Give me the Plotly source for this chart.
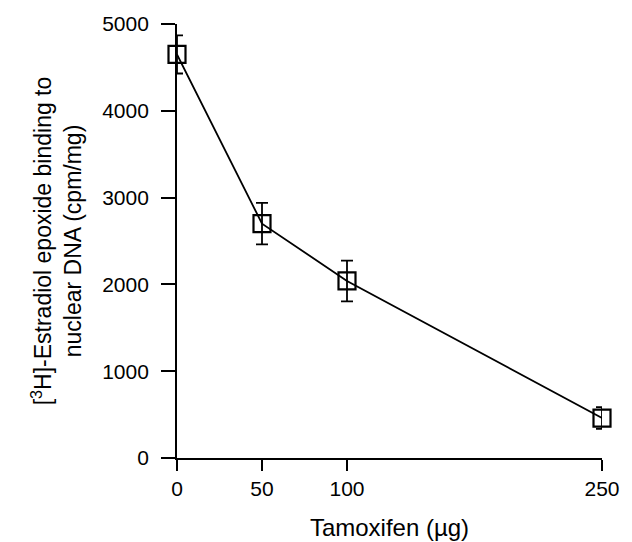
import plotly.graph_objects as go

tamoxifen = [0, 50, 100, 250]
binding = [4650, 2700, 2040, 460]
binding_err = [220, 240, 235, 125]

x_ticks = [0, 50, 100, 250]
y_ticks = [0, 1000, 2000, 3000, 4000, 5000]

fig = go.Figure()
fig.add_trace(go.Scatter(
    x=tamoxifen, y=binding,
    mode="lines+markers",
    line=dict(color="black", width=1.8),
    marker=dict(symbol="square-open", size=17, color="black", line=dict(width=2.2)),
    error_y=dict(type="data", array=binding_err, visible=True, color="black", thickness=1.8, width=6),
    cliponaxis=False,
    showlegend=False,
))

font = "Liberation Sans, Arial, Helvetica, sans-serif"
# page body has an 8px margin: the figure is sized/offset to compensate
fig.update_layout(
    width=624, height=534,
    margin=dict(l=169, r=30, t=16, b=84),
    plot_bgcolor="white", paper_bgcolor="white",
    font=dict(family=font, color="black", size=21),
    xaxis=dict(
        range=[0, 250], tickvals=x_ticks, ticktext=[str(v) for v in x_ticks],
        showgrid=False, zeroline=False, showline=True, linecolor="black", linewidth=1.8,
        ticks="outside", ticklen=11, tickwidth=1.8, tickcolor="black",
        tickfont=dict(size=21), ticklabelstandoff=0, automargin=False,
        title=dict(text="Tamoxifen (µg)", font=dict(size=24), standoff=20),
    ),
    yaxis=dict(
        range=[0, 5000], tickvals=y_ticks,
        showgrid=False, zeroline=False, showline=True, linecolor="black", linewidth=1.8,
        ticks="outside", ticklen=14, tickwidth=1.8, tickcolor="black",
        tickfont=dict(size=21), ticklabelstandoff=8, automargin=False,
        title=dict(text="[<sup>3</sup>H]-Estradiol epoxide binding to<br>nuclear DNA (cpm/mg)",
                   font=dict(size=23), standoff=14),
    ),
)

fig.write_html("out.html")
